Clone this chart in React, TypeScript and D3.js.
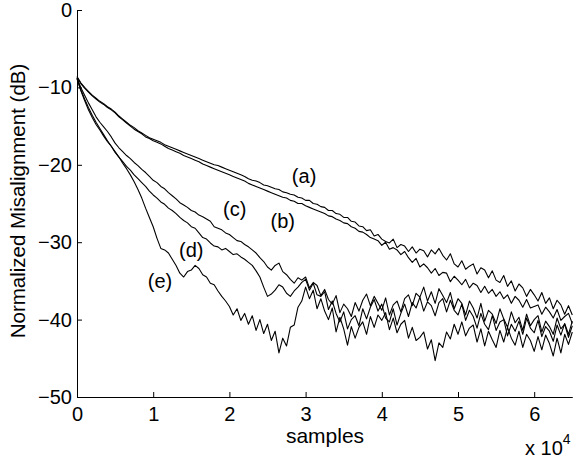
import * as d3 from "d3";
import { useEffect, useRef } from "react";

// one value every 500 samples, 0 .. 65000
const step = 500;

const curveA = [
  -8.6, -9.4, -10.0, -10.5, -11.0, -11.4, -11.8, -12.1, -12.5, -12.8,
  -13.2, -13.7, -14.1, -14.5, -14.9, -15.2, -15.6, -15.9, -16.2, -16.5,
  -16.7, -16.9, -17.1, -17.4, -17.6, -17.8, -18.0, -18.2, -18.4, -18.6,
  -18.8, -19.0, -19.2, -19.4, -19.6, -19.8, -20.0, -20.1, -20.3, -20.5,
  -20.7, -20.9, -21.1, -21.3, -21.5, -21.8, -22.0, -22.1, -22.3, -22.6,
  -22.7, -22.9, -23.1, -23.2, -23.5, -23.6, -23.8, -23.9, -24.2, -24.3,
  -24.6, -24.6, -25.0, -25.1, -25.4, -25.5, -25.9, -25.9, -26.3, -26.4,
  -26.8, -26.8, -27.3, -27.4, -27.9, -28.0, -28.5, -28.4, -29.2, -29.0,
  -29.6, -29.9, -30.1, -29.6, -30.7, -30.3, -30.5, -31.2, -30.6, -31.4,
  -30.9, -31.1, -31.9, -31.0, -31.5, -30.8, -31.7, -32.3, -31.5, -32.8,
  -33.2, -32.4, -33.5, -33.1, -32.8, -34.1, -33.3, -33.6, -34.6, -33.7,
  -34.9, -35.2, -34.3, -35.7, -35.0, -36.3, -35.4, -35.9, -37.0, -36.1,
  -36.8, -37.6, -36.5, -37.9, -37.2, -38.6, -37.5, -38.1, -39.3, -38.2,
  -39.4,
];

const curveB = [
  -8.7, -9.5, -10.1, -10.6, -11.1, -11.5, -11.9, -12.2, -12.6, -12.9,
  -13.3, -13.8, -14.2, -14.6, -15.0, -15.4, -15.7, -16.0, -16.4, -16.6,
  -16.9, -17.1, -17.3, -17.6, -17.9, -18.1, -18.3, -18.5, -18.8, -19.0,
  -19.2, -19.4, -19.6, -19.9, -20.1, -20.3, -20.5, -20.7, -20.9, -21.1,
  -21.3, -21.5, -21.7, -21.9, -22.1, -22.4, -22.6, -22.8, -23.0, -23.2,
  -23.4, -23.6, -23.8, -24.0, -24.2, -24.3, -24.6, -24.7, -25.0, -25.0,
  -25.3, -25.5, -25.7, -25.9, -26.1, -26.3, -26.6, -26.7, -27.0, -27.2,
  -27.5, -27.6, -28.0, -28.2, -28.6, -28.7, -29.0, -29.4, -29.6, -29.8,
  -30.4, -30.0, -30.9, -30.7, -31.0, -31.6, -31.2, -32.0, -32.6, -32.1,
  -33.2, -32.8, -33.3, -34.0, -33.4, -34.3, -33.9, -34.0, -35.1, -34.4,
  -34.9, -35.5, -34.8, -35.9, -35.3, -35.6, -36.5, -35.7, -36.6, -36.1,
  -37.0, -36.4, -37.3, -36.8, -37.9, -37.0, -37.5, -38.4, -37.4, -38.5,
  -38.3, -38.1, -39.3, -38.4, -39.0, -39.8, -38.7, -40.1, -39.6, -39.2,
  -40.5,
];

const curveC = [
  -8.8, -10.0, -11.0, -12.0, -12.9, -13.8, -14.5, -15.1, -15.7, -16.4,
  -17.2, -17.8, -18.3, -18.8, -19.2, -19.7, -20.1, -20.6, -21.0, -21.5,
  -22.0, -22.3, -22.8, -23.1, -23.6, -24.0, -24.4, -24.9, -25.2, -25.5,
  -25.9, -26.1, -26.5, -26.7, -27.0, -27.3, -28.0, -28.2, -28.4, -28.8,
  -29.0, -29.4, -29.8, -29.9, -30.3, -30.6, -31.0, -31.4, -32.0, -32.5,
  -33.2, -33.6, -33.0, -32.7, -33.8, -34.2, -34.8, -35.3, -34.6, -34.9,
  -34.5, -35.9, -35.2, -35.6, -36.9, -36.1, -37.4, -38.0, -36.9, -39.1,
  -38.0, -38.6, -39.6, -37.8, -38.9, -37.5, -36.7, -38.2, -37.0, -37.9,
  -38.8, -37.2, -39.4, -38.1, -37.6, -39.0, -37.3, -36.8, -38.2, -36.6,
  -37.1, -35.8, -37.6, -36.4, -37.9, -36.0, -36.9, -37.8, -36.5, -38.6,
  -37.3, -37.9, -39.4, -37.6, -38.5, -39.8, -37.9, -40.2, -38.8, -39.3,
  -40.5, -38.6, -39.9, -41.0, -39.0, -40.4, -39.7, -41.4, -39.3, -40.8,
  -40.0, -39.5, -41.6, -40.2, -40.9, -41.9, -39.8, -41.2, -40.6, -42.3,
  -40.8,
];

const curveD = [
  -8.8, -10.3, -11.5, -12.6, -13.6, -14.5, -15.3, -16.1, -16.9, -17.6,
  -18.4, -19.0, -19.6, -20.2, -20.7, -21.3, -21.8, -22.3, -22.8, -23.4,
  -23.9, -24.3, -24.8, -25.1, -25.6, -25.9, -26.3, -26.8, -27.2, -27.5,
  -28.0, -28.2, -28.8, -29.4, -29.6, -30.1, -30.5, -30.6, -31.0, -30.8,
  -31.2, -31.6, -31.5, -31.9, -32.2, -32.6, -33.0, -33.7, -34.5, -35.8,
  -37.0, -36.7, -36.2, -35.5, -35.8, -36.6, -37.0, -36.3, -35.8, -35.2,
  -34.8, -36.2, -35.3, -36.8, -37.0, -36.4, -38.7, -37.6, -39.2, -40.3,
  -39.0, -41.2, -40.0, -39.5, -40.8, -38.6, -39.9, -38.4, -37.4, -38.9,
  -38.0, -39.8, -40.3, -38.6, -40.7, -39.2, -38.0, -39.6, -37.8, -38.5,
  -37.1, -38.9, -37.7, -38.2, -39.5, -37.8, -37.3, -39.0, -37.5, -38.8,
  -39.4, -38.0, -40.1, -38.8, -39.6, -41.1, -39.2, -40.6, -41.3, -39.5,
  -41.4, -40.3, -40.0, -42.1, -40.6, -41.5, -40.2, -41.9, -39.8, -41.1,
  -41.7, -40.1, -42.2, -40.9, -41.5, -42.8, -40.7, -42.0, -40.5, -41.9,
  -40.2,
];

const curveE = [
  -8.9, -10.4, -11.7, -12.9, -13.9, -14.8, -15.5, -16.3, -17.0, -17.6,
  -18.3, -19.0, -19.8, -20.5, -21.3, -22.2, -23.2, -24.3, -25.6, -26.8,
  -28.0, -29.5, -30.8, -31.0, -31.4, -32.2, -33.0, -34.0, -34.5, -33.8,
  -33.6, -33.0, -33.4, -34.2, -34.5, -35.3, -35.5, -36.3, -37.0, -37.6,
  -38.3, -39.4, -38.6, -40.1, -39.2, -40.6, -39.5, -41.4, -40.0, -41.8,
  -40.6, -42.7, -41.5, -44.3, -42.4, -43.4, -41.0, -40.7, -38.4, -37.6,
  -35.8, -37.3, -36.2, -38.6, -37.3, -38.9, -40.0, -38.5, -41.6, -39.7,
  -41.2, -43.3, -40.9, -42.4, -41.0, -40.3, -41.9, -39.6, -41.0, -39.4,
  -40.1, -39.1, -41.3, -39.8, -41.7, -40.6, -40.1, -42.4, -41.0, -42.7,
  -42.3, -41.6, -43.8, -42.6, -45.3, -43.0, -43.6, -41.6, -42.5, -40.6,
  -41.9, -40.3, -42.1, -41.1, -40.7, -42.9, -41.2, -43.4, -41.5, -42.6,
  -43.6, -41.4, -42.9, -41.0, -42.4, -43.3, -41.5, -43.6, -41.9, -42.7,
  -44.1, -42.2, -43.9, -42.0, -43.1, -44.7, -42.4, -44.3, -41.9, -43.2,
  -41.6,
];

const curves = [curveA, curveB, curveC, curveD, curveE];

// curve labels, placed in data units (x in 10^4 samples, y in dB)
const labelText = ["(a)", "(b)", "(c)", "(d)", "(e)"];
const labelX = [2.98, 2.7, 2.07, 1.5, 1.09];
const labelY = [-21.4, -27.3, -25.7, -31.0, -35.0];

const xTicks = [0, 1, 2, 3, 4, 5, 6];
const yTicks = [-50, -40, -30, -20, -10, 0];

const FONT = "'Liberation Sans', Arial, Helvetica, sans-serif";

const App = () => {
  const ref = useRef<SVGSVGElement>(null);

  useEffect(() => {
    const svg = d3.select(ref.current);
    svg.selectAll("*").remove();

    const x = d3.scaleLinear().domain([0, 65000]).range([77, 572.3]);
    const y = d3.scaleLinear().domain([-50, 0]).range([397, 10]);

    const samples = curveA.map((_, i) => i * step);

    const line = d3.line<number>()
      .x((_, i) => x(samples[i]))
      .y(d => y(d));

    svg.append("g")
      .selectAll("path")
      .data(curves)
      .enter()
      .append("path")
      .attr("d", d => line(d))
      .attr("fill", "none")
      .attr("stroke", "black")
      .attr("stroke-width", 1.1)
      .attr("stroke-linejoin", "round");

    const xAxisGroup = svg.append("g")
      .attr("transform", "translate(0," + y(-50) + ")")
      .call(d3.axisBottom(x)
        .tickValues(xTicks.map(t => t * 1e4))
        .tickFormat(d => String(+d / 1e4))
        .tickSizeInner(-5)
        .tickSizeOuter(0)
        .tickPadding(10));

    const yAxisGroup = svg.append("g")
      .attr("transform", "translate(" + x(0) + ",0)")
      .call(d3.axisLeft(y)
        .tickValues(yTicks)
        .tickFormat(d3.format("d"))
        .tickSizeInner(-5)
        .tickSizeOuter(0)
        .tickPadding(5));

    [xAxisGroup, yAxisGroup].forEach(g => {
      g.attr("font-size", 20).attr("font-family", FONT);
      g.selectAll("line").attr("stroke", "black");
      g.select(".domain").attr("stroke", "black");
      g.selectAll("text").attr("fill", "black");
    });

    svg.append("g")
      .selectAll("text")
      .data(labelText)
      .enter()
      .append("text")
      .attr("x", (_, i) => x(labelX[i] * 1e4))
      .attr("y", (_, i) => y(labelY[i]))
      .attr("dominant-baseline", "central")
      .attr("text-anchor", "middle")
      .attr("font-size", 20)
      .attr("font-family", FONT)
      .text(d => d);

    svg.append("text")
      .attr("x", 325)
      .attr("y", 443)
      .attr("text-anchor", "middle")
      .attr("font-size", 21)
      .attr("font-family", FONT)
      .text("samples");

    const exp = svg.append("text")
      .attr("x", 525)
      .attr("y", 455)
      .attr("font-size", 20)
      .attr("font-family", FONT)
      .text("x 10");
    exp.append("tspan")
      .attr("dy", -11)
      .attr("font-size", 14)
      .text("4");

    svg.append("text")
      .attr("transform", "translate(25,201) rotate(-90)")
      .attr("text-anchor", "middle")
      .attr("font-size", 20.5)
      .attr("font-family", FONT)
      .text("Normalized Misalignment (dB)");
  }, []);

  return (
    <svg
      ref={ref}
      width={573}
      height={462}
      style={{ position: "absolute", left: 0, top: 0, background: "white" }}
    />
  );
};

export default App;
